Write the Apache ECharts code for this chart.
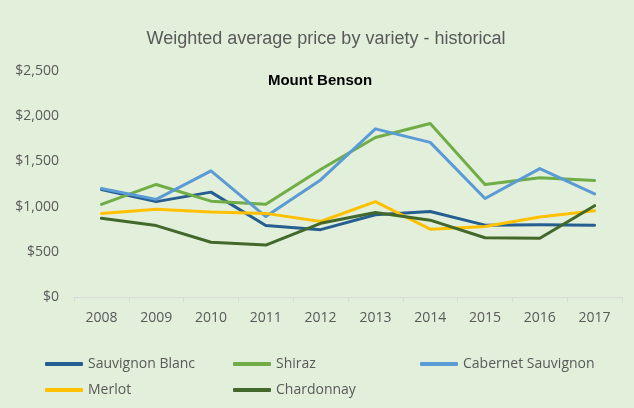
<!DOCTYPE html>
<html><head><meta charset="utf-8">
<script src="https://cdn.jsdelivr.net/npm/echarts@6/dist/echarts.min.js"></script>
<style>html,body{margin:0;padding:0;background:#E2EFDA;}#c{width:634px;height:408px;}</style>
</head><body><div id="c"></div>
<script>
const years = ['2008','2009','2010','2011','2012','2013','2014','2015','2016','2017'];
const sauvignonBlanc = [1190,1055,1160,790,745,910,945,795,800,795];
const shiraz = [1025,1245,1060,1025,1410,1765,1920,1245,1320,1290];
const cabernetSauvignon = [1200,1080,1395,890,1295,1860,1710,1090,1420,1140];
const merlot = [925,970,940,925,835,1055,750,780,885,955];
const chardonnay = [870,790,605,575,815,935,850,655,650,1010];

const font = 'Liberation Sans, Arial, sans-serif';
const axisFont = 'Open Sans, sans-serif';
const chart = echarts.init(document.getElementById('c'));
function s(name, data, color){
  return {name, type:'line', data, symbol:'none', lineStyle:{width:3, color, cap:'round', join:'round'}, itemStyle:{color}};
}
const legendBase = {orient:'vertical', icon:'roundRect', itemWidth:38, itemHeight:4, itemGap:12, top:357, padding:0,
  textStyle:{color:'#595959', fontSize:14, fontFamily:axisFont}};
chart.setOption({
  backgroundColor:'#E2EFDA',
  animation:false,
  title:[
    {text:'Weighted average price by variety - historical', left:321, textAlign:'center', top:25,
     textStyle:{color:'#595959', fontSize:18, fontWeight:'normal', fontFamily:font}},
    {text:'Mount Benson', left:315, textAlign:'center', top:68,
     textStyle:{color:'#000', fontSize:15, fontWeight:'bold', fontFamily:font}}
  ],
  legend:[
    Object.assign({}, legendBase, {left:45, data:['Sauvignon Blanc','Merlot']}),
    Object.assign({}, legendBase, {left:233, data:['Shiraz','Chardonnay']}),
    Object.assign({}, legendBase, {left:420, data:['Cabernet Sauvignon']})
  ],
  grid:{left:74, right:12, top:71, bottom:111},
  xAxis:{type:'category', data:years, boundaryGap:true,
    axisLine:{lineStyle:{color:'#D9D9D9', width:1}},
    axisTick:{show:true, length:5, lineStyle:{color:'#D9D9D9'}},
    axisLabel:{color:'#595959', fontSize:14, fontFamily:axisFont, margin:14}},
  yAxis:{type:'value', min:0, max:2500, interval:500,
    splitLine:{show:false}, axisLine:{show:false}, axisTick:{show:false},
    axisLabel:{color:'#595959', fontSize:14, fontFamily:axisFont, margin:15,
      formatter:v=>'$'+v.toLocaleString('en-US')}},
  series:[
    s('Sauvignon Blanc', sauvignonBlanc, '#255E91'),
    s('Shiraz', shiraz, '#70AD47'),
    s('Cabernet Sauvignon', cabernetSauvignon, '#5B9BD5'),
    s('Merlot', merlot, '#FFC000'),
    s('Chardonnay', chardonnay, '#43682B')
  ]
});
</script></body></html>
